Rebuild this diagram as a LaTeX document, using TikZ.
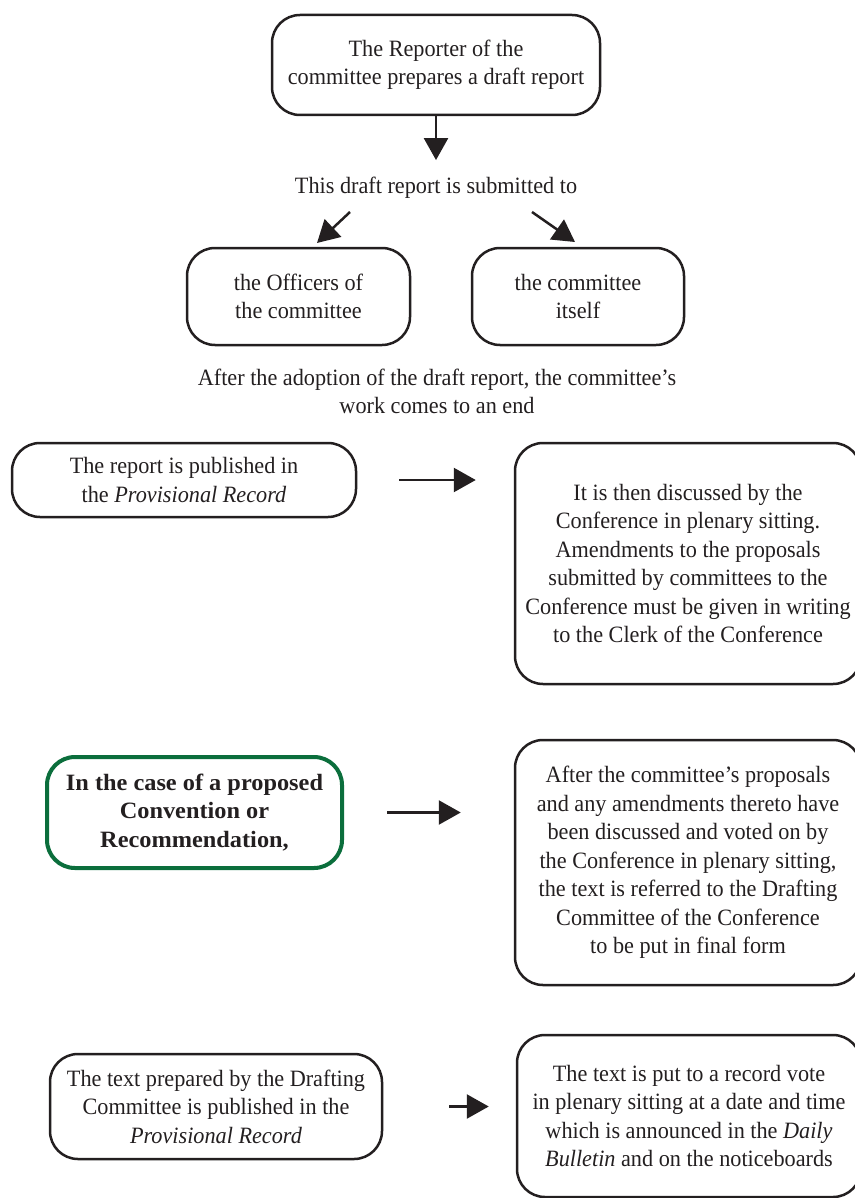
\documentclass[tikz,border=0pt]{standalone}
\usepackage{fontspec}
\setmainfont{Liberation Serif}[FakeStretch=0.95]
\newfontfamily\casefont{Liberation Serif}[FakeStretch=1.04]
\usetikzlibrary{arrows.meta}

\definecolor{ink}{HTML}{231F20}
\definecolor{boxgreen}{HTML}{0B6E3C}
\newcommand{\stagefont}{\fontsize{23.4}{28.5}\selectfont}

\begin{document}
\begin{tikzpicture}[
        x=1pt, y=-1pt,
        stage/.style = {draw=ink, line width=2.5pt, rounded corners=28pt, align=center, inner sep=0pt, text=ink, font=\stagefont},
        note/.style = {align=center, inner sep=0pt, text=ink, font=\stagefont},
        flow/.style = {->, draw=ink, fill=ink, line width=2.5pt},
        >={Triangle[length=22pt, width=24pt]}
        ]

        \useasboundingbox (0,0) rectangle (854,1198);

        \node (rep) at (436,65)       [stage, minimum width=328pt, minimum height=100pt] {The Reporter of the\\committee prepares a draft report};
        \node (subm) at (436,188)     [note] {This draft report is submitted to};
        \node (off) at (298.5,296.5)  [stage, minimum width=223pt, minimum height=97pt] {the Officers of\\the committee};
        \node (self) at (578,296.5)   [stage, minimum width=212pt, minimum height=97pt] {the committee\\itself};
        \node (adopt) at (437,391.5)  [note] {After the adoption of the draft report, the committee’s\\work comes to an end};

        \node (pub) at (184,480)      [stage, minimum width=344pt, minimum height=74pt] {The report is published in\\the \textit{Provisional Record}};
        \node (disc) at (688,563.5)   [stage, minimum width=346pt, minimum height=241pt] {It is then discussed by the\\Conference in plenary sitting.\\Amendments to the proposals\\submitted by committees to the\\Conference must be given in writing\\to the Clerk of the Conference};

        \node (case) at (194.5,812.5) [stage, draw=boxgreen, line width=4pt, minimum width=295pt, minimum height=111pt, font=\stagefont\casefont\bfseries] {In the case of a proposed\\Convention or\\Recommendation,};
        \node (vote) at (688,862.5)   [stage, minimum width=346pt, minimum height=245pt] {After the committee’s proposals\\and any amendments thereto have\\been discussed and voted on by\\the Conference in plenary sitting,\\the text is referred to the Drafting\\Committee of the Conference\\to be put in final form};

        \node (drafted) at (216,1106.5) [stage, minimum width=332pt, minimum height=105pt] {The text prepared by the Drafting\\Committee is published in the\\\textit{Provisional Record}};
        \node (record) at (689,1116)  [stage, minimum width=344pt, minimum height=162pt] {The text is put to a record vote\\in plenary sitting at a date and time\\which is announced in the \textit{Daily}\\\textit{Bulletin} and on the noticeboards};

        % split arrows
        \coordinate (splitL) at (350,212);
        \coordinate (splitLtip) at (317,243);
        \coordinate (splitR) at (532,212);
        \coordinate (splitRtip) at (575,242);

        \draw[flow, shorten >=17pt] (rep.south) -- (rep.south |- subm.north);
        \draw[flow] (splitL) -- (splitLtip);
        \draw[flow] (splitR) -- (splitRtip);
        \draw[flow, shorten <=42pt, shorten >=38pt] (pub.east) -- (pub.east -| disc.west);
        \draw[flow, shorten <=43pt, shorten >=53pt] (case.east) -- (case.east -| vote.west);
        \draw[flow, shorten <=66pt, shorten >=27pt] (drafted.east) -- (drafted.east -| record.west);

    \end{tikzpicture}
\end{document}
